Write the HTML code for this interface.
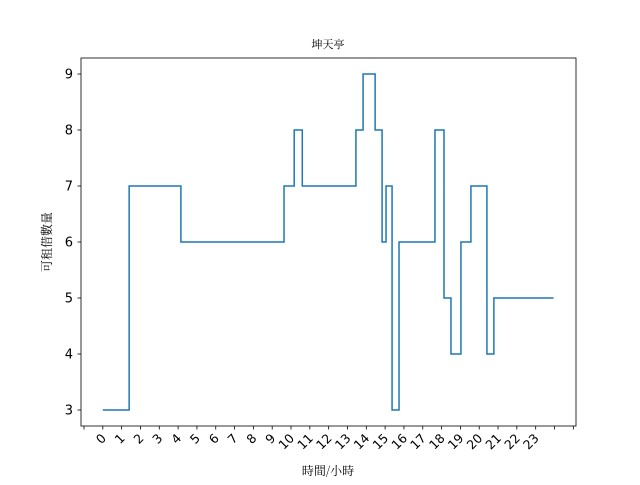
<!DOCTYPE html>
<html><head><meta charset="utf-8"><style>
body{margin:0;background:#fff}
svg text{font-family:"DejaVu Sans","Liberation Sans","Noto Sans CJK TC",sans-serif;fill:#000}
</style></head><body>
<svg id="chart" width="640" height="480" xmlns="http://www.w3.org/2000/svg">
<rect width="640" height="480" fill="#fff"/>
<text x="328" y="48" font-size="11" text-anchor="middle" style="font-family:'Noto Serif CJK SC','Noto Sans CJK TC',serif">坤天亭</text>
<text x="328" y="475" font-size="12" text-anchor="middle" style="font-family:'Noto Serif CJK SC','Noto Sans CJK TC',serif">時間/小時</text>
<text x="0" y="0" font-size="12" text-anchor="middle" transform="translate(51,242) rotate(-90)" style="font-family:'Noto Serif CJK SC','Noto Sans CJK TC',serif">可租借數量</text>
<g id="ticks"></g>
<path id="line" fill="none" stroke="#1f77b4" stroke-width="1.5"/>
<rect x="81" y="58" width="495" height="368" fill="none" stroke="#000" stroke-width="0.8"/>
</svg>
<script>
const xLabels=["0","1","2","3","4","5","6","7","8","9","10","11","12","13","14","15","16","17","18","19","20","21","22","23"];
const yTicks=[3,4,5,6,7,8,9];
const stepX=[0,1.4,4.15,9.63,10.17,10.6,13.45,13.83,14.47,14.84,15.05,15.37,15.74,17.65,18.13,18.5,19.03,19.56,20.41,20.78,23.95];
const stepY=[3,7,6,7,8,7,8,9,8,6,7,3,6,8,5,4,6,7,4,5,5];
const X=h=>102.8+18.82*h;
const Y=v=>410-(v-3)*56;
const NS="http://www.w3.org/2000/svg";
const g=document.getElementById('ticks');
for(let k=0;k<27;k++){
  const px=84+18.82*k;
  const t=document.createElementNS(NS,'line');
  
  
  t.setAttribute('x1',px);t.setAttribute('x2',px);t.setAttribute('y1',426);t.setAttribute('y2',429.5);
  t.setAttribute('stroke','#000');t.setAttribute('stroke-width','0.8');g.appendChild(t);
  const lab=xLabels[k-1];
  if(lab!==undefined){
    const tx=document.createElementNS(NS,'text');
    
    
    tx.setAttribute('font-size','12.5');tx.setAttribute('text-anchor','end');
    tx.setAttribute('transform',`translate(${px+4},${439}) rotate(-45)`);
    tx.textContent=lab;g.appendChild(tx);
  }
}
yTicks.forEach(v=>{
  const py=Y(v);
  const t=document.createElementNS(NS,'line');
  
  
  t.setAttribute('x1',77.5);t.setAttribute('x2',81);t.setAttribute('y1',py);t.setAttribute('y2',py);
  t.setAttribute('stroke','#000');t.setAttribute('stroke-width','0.8');g.appendChild(t);
  const tx=document.createElementNS(NS,'text');
  
  
  tx.setAttribute('font-size','13');tx.setAttribute('text-anchor','end');
  tx.setAttribute('x',73);tx.setAttribute('y',py+4.7);
  tx.textContent=v;g.appendChild(tx);
});
let d='';
for(let i=0;i<stepX.length;i++){
  if(i===0)d+=`M${X(stepX[0])},${Y(stepY[0])}`;
  else d+=` H${X(stepX[i])} V${Y(stepY[i])}`;
}
document.getElementById('line').setAttribute('d',d);
</script>
</body></html>
